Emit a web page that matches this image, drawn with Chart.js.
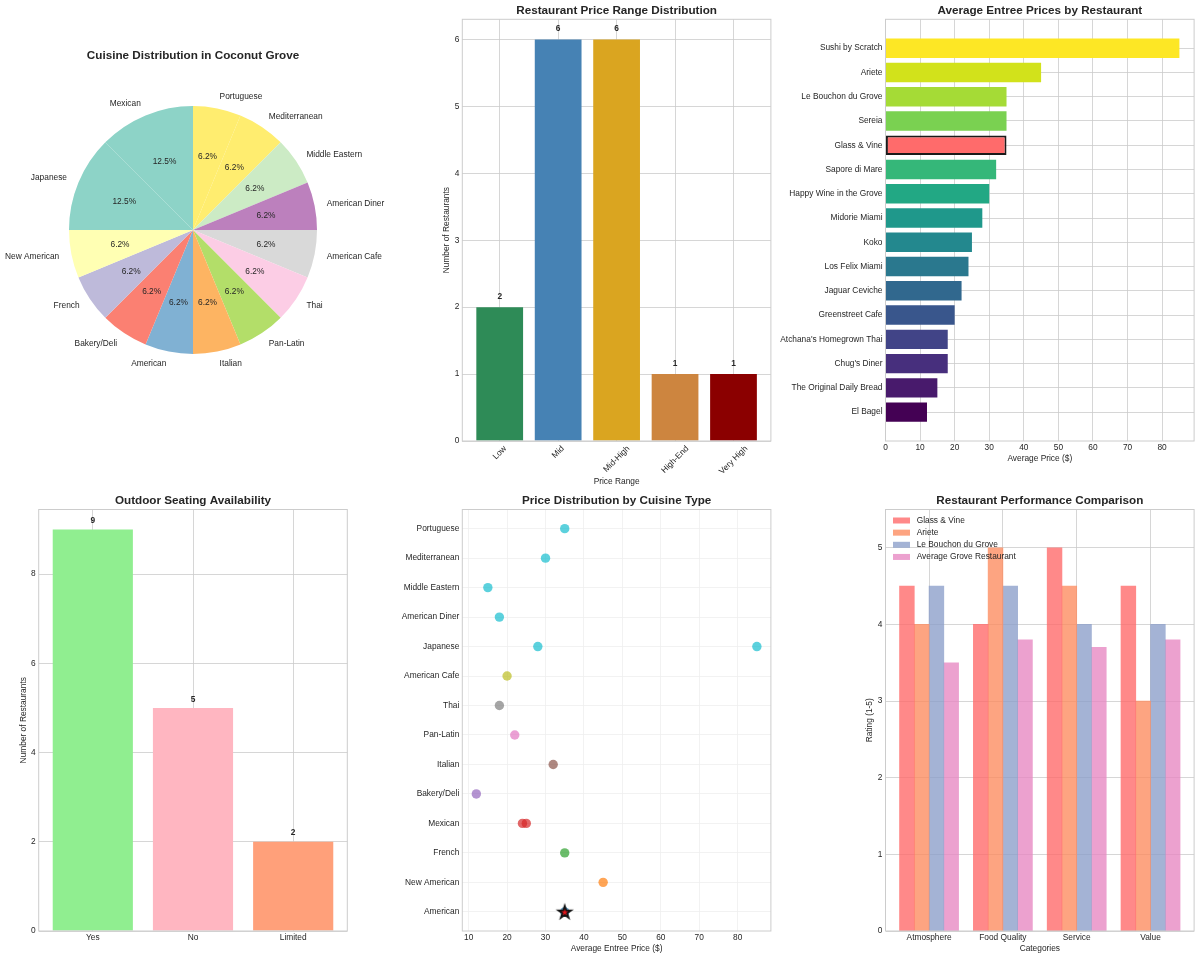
<!DOCTYPE html>
<html>
<head>
<meta charset="utf-8">
<title>Coconut Grove Restaurants</title>
<script src="https://cdn.jsdelivr.net/npm/chart.js@4.4.1/dist/chart.umd.min.js"></script>
<style>
  html, body { margin: 0; padding: 0; background: #fff; }
  #page { position: relative; width: 1200px; height: 960px; overflow: hidden; }
  #page canvas { position: absolute; }
</style>
</head>
<body>
<div id="page">
  <canvas id="cuisineChart"></canvas>
  <canvas id="priceRangeChart"></canvas>
  <canvas id="entreeChart"></canvas>
  <canvas id="seatingChart"></canvas>
  <canvas id="scatterChart"></canvas>
  <canvas id="ratingChart"></canvas>
</div>
<script>
// ---------- data ----------

// Cuisine pie (matplotlib order, counter-clockwise from 12 o'clock)
const cuisines = ['Mexican', 'Japanese', 'New American', 'French', 'Bakery/Deli', 'American', 'Italian',
  'Pan-Latin', 'Thai', 'American Cafe', 'American Diner', 'Middle Eastern', 'Mediterranean', 'Portuguese'];
const cuisineCounts = [2, 2, 1, 1, 1, 1, 1, 1, 1, 1, 1, 1, 1, 1];
const cuisineColors = ['#8dd3c7', '#8dd3c7', '#ffffb3', '#bebada', '#fb8072', '#80b1d3', '#fdb462',
  '#b3de69', '#fccde5', '#d9d9d9', '#bc80bd', '#ccebc5', '#ffed6f', '#ffed6f'];

// Price range bars
const priceRanges = ['Low', 'Mid', 'Mid-High', 'High-End', 'Very High'];
const priceRangeCounts = [2, 6, 6, 1, 1];
const priceRangeColors = ['#2e8b57', '#4682b4', '#daa520', '#cd853f', '#8b0000'];
const countTicks = [0, 1, 2, 3, 4, 5, 6];

// Average entree price per restaurant (top to bottom)
const restaurants = ['Sushi by Scratch', 'Ariete', 'Le Bouchon du Grove', 'Sereia', 'Glass & Vine',
  'Sapore di Mare', 'Happy Wine in the Grove', 'Midorie Miami', 'Koko', 'Los Felix Miami',
  'Jaguar Ceviche', 'Greenstreet Cafe', "Atchana's Homegrown Thai", "Chug's Diner",
  'The Original Daily Bread', 'El Bagel'];
const entreePrices = [85, 45, 35, 35, 35, 32, 30, 28, 25, 24, 22, 20, 18, 18, 15, 12];
const restaurantColors = ['#fde725', '#d2e21b', '#a5db36', '#7ad151', '#54c568', '#35b779', '#22a884',
  '#1f988b', '#23888e', '#2a788e', '#31688e', '#39568c', '#414487', '#472f7d', '#481a6c', '#440154'];
const highlightRestaurant = 'Glass & Vine';
const priceTicks = [0, 10, 20, 30, 40, 50, 60, 70, 80];

// Outdoor seating
const seatingOptions = ['Yes', 'No', 'Limited'];
const seatingCounts = [9, 5, 2];
const seatingColors = ['#90ee90', '#ffb6c1', '#ffa07a'];
const seatingTicks = [0, 2, 4, 6, 8];

// Price by cuisine scatter (bottom to top)
const scatterCuisines = ['American', 'New American', 'French', 'Mexican', 'Bakery/Deli', 'Italian',
  'Pan-Latin', 'Thai', 'American Cafe', 'Japanese', 'American Diner', 'Middle Eastern',
  'Mediterranean', 'Portuguese'];
const cuisinePrices = [[35], [45], [35], [24, 25], [12], [32], [22], [18], [20], [28, 85], [18], [15], [30], [35]];
const cuisinePointColors = ['#1f77b4', '#ff7f0e', '#2ca02c', '#d62728', '#9467bd', '#8c564b', '#e377c2',
  '#7f7f7f', '#bcbd22', '#17becf', '#17becf', '#17becf', '#17becf', '#17becf'];
const highlightCuisine = 'American';
const highlightPrice = 35;
const entreeTicks = [10, 20, 30, 40, 50, 60, 70, 80];

// Performance comparison
const ratingCategories = ['Atmosphere', 'Food Quality', 'Service', 'Value'];
const glassVineRatings = [4.5, 4, 5, 4.5];
const arieteRatings = [4, 5, 4.5, 3];
const bouchonRatings = [4.5, 4.5, 4, 4];
const groveAverageRatings = [3.5, 3.8, 3.7, 3.8];
const ratingSeries = ['Glass & Vine', 'Ariete', 'Le Bouchon du Grove', 'Average Grove Restaurant'];
const ratingColors = ['rgba(255,107,107,0.8)', 'rgba(252,141,98,0.8)', 'rgba(141,160,203,0.8)', 'rgba(231,138,195,0.8)'];
const ratingTicks = [0, 1, 2, 3, 4, 5];
const ratingMax = 5.5;

// ---------- look ----------
const FONT = "'Liberation Sans', Arial, sans-serif";
const TEXT = '#262626';
const GRID = '#cccccc';
const TITLE_SIZE = 11.7;
const TEXT_SIZE = 8.35;

Chart.defaults.font.family = FONT;
Chart.defaults.font.size = TEXT_SIZE;
Chart.defaults.color = TEXT;
Chart.defaults.animation = false;
Chart.defaults.events = [];
Chart.defaults.responsive = false;
Chart.defaults.plugins.legend.display = false;
Chart.defaults.plugins.tooltip.enabled = false;

// canvas boxes and plot areas on the page
const boxes = {
  cuisine:    { x: 0,   y: 0,   w: 400, h: 480, plot: { l: 69,    t: 106,   r: 317,    b: 354 } },
  priceRange: { x: 400, y: 0,   w: 400, h: 495, plot: { l: 462.3, t: 19.3,  r: 770.9,  b: 441 }, yW: 30, xH: 10 },
  entree:     { x: 760, y: 0,   w: 440, h: 480, plot: { l: 885.5, t: 19.3,  r: 1194.1, b: 441 }, yW: 110, xH: 20 },
  seating:    { x: 0,   y: 480, w: 400, h: 480, plot: { l: 38.7,  t: 509.5, r: 347.3,  b: 931 }, yW: 20, xH: 20 },
  scatter:    { x: 380, y: 480, w: 420, h: 480, plot: { l: 462.3, t: 509.5, r: 770.9,  b: 931 }, yW: 78, xH: 20 },
  rating:     { x: 800, y: 480, w: 400, h: 480, plot: { l: 885.5, t: 509.5, r: 1194.1, b: 931 }, yW: 20, xH: 20 }
};

function place(id, box) {
  const c = document.getElementById(id);
  c.width = box.w;
  c.height = box.h;
  c.style.left = box.x + 'px';
  c.style.top = box.y + 'px';
  return c;
}

function paddingFor(box) {
  const p = box.plot, yW = box.yW || 0, xH = box.xH || 0;
  return {
    left: p.l - box.x - yW,
    top: p.t - box.y,
    right: box.x + box.w - p.r,
    bottom: box.y + box.h - p.b - xH
  };
}

// matplotlib style 5% margins
function barLimits(n, width) {
  const lo = -width / 2, hi = n - 1 + width / 2, m = (hi - lo) * 0.05;
  return [lo - m, hi + m];
}
function dataLimits(values) {
  const lo = Math.min(...values), hi = Math.max(...values), m = (hi - lo) * 0.05;
  return [lo - m, hi + m];
}

function linearAxis(min, max, tickValues, size, more) {
  more = more || {};
  return {
    type: 'linear',
    min, max,
    offset: false,
    reverse: !!more.reverse,
    grid: { color: more.gridColor || GRID, lineWidth: 0.8, drawTicks: false, offset: false },
    border: { display: false },
    ticks: {
      display: more.hideLabels ? false : true,
      padding: more.tickPad != null ? more.tickPad : 3,
      autoSkip: false,
      maxRotation: 0,
      minRotation: 0,
      callback: more.labels ? (v) => more.labels[v] : undefined
    },
    afterBuildTicks: (sc) => { sc.ticks = tickValues.map(v => ({ value: v })); },
    afterFit: (sc) => { if (sc.isHorizontal()) sc.height = size; else sc.width = size; }
  };
}

function pctText(v) {
  const scaled = v * 10;
  let r = Math.round(scaled);
  if (Math.abs(scaled - Math.trunc(scaled)) === 0.5 && r % 2 !== 0) r -= 1; // round half to even like python
  return (r / 10).toFixed(1) + '%';
}

// titles, axis titles, frame, value labels, legend
const panelText = {
  id: 'panelText',
  afterDatasetsDraw(chart, args, o) {
    const { ctx } = chart;
    if (o.valueLabels) {
      const meta = chart.getDatasetMeta(0);
      const ys = chart.scales.y;
      ctx.save();
      ctx.font = `bold ${TEXT_SIZE}px ${FONT}`;
      ctx.fillStyle = TEXT;
      ctx.textAlign = 'center';
      ctx.textBaseline = 'bottom';
      meta.data.forEach((bar, i) => {
        const v = chart.data.datasets[0].data[i].y;
        ctx.fillText(String(v), bar.x, ys.getPixelForValue(v + 0.1));
      });
      ctx.restore();
    }
  },
  afterDraw(chart, args, o) {
    const { ctx, chartArea: a } = chart;
    ctx.save();
    ctx.fillStyle = TEXT;
    if (o.frame) {
      ctx.strokeStyle = GRID;
      ctx.lineWidth = 1;
      ctx.strokeRect(a.left, a.top, a.right - a.left, a.bottom - a.top);
    }
    if (o.title) {
      ctx.font = `bold ${TITLE_SIZE}px ${FONT}`;
      ctx.textAlign = 'center';
      ctx.textBaseline = 'middle';
      ctx.fillText(o.title, (a.left + a.right) / 2, o.titleY != null ? o.titleY : a.top - 8.5);
    }
    ctx.font = `${TEXT_SIZE}px ${FONT}`;
    if (o.xTitle) {
      ctx.textAlign = 'center';
      ctx.textBaseline = 'middle';
      ctx.fillText(o.xTitle, (a.left + a.right) / 2, a.bottom + (o.xTitleGap || 18));
    }
    if (o.yTitle) {
      ctx.save();
      ctx.translate(a.left - 15.5, (a.top + a.bottom) / 2);
      ctx.rotate(-Math.PI / 2);
      ctx.textAlign = 'center';
      ctx.textBaseline = 'middle';
      ctx.fillText(o.yTitle, 0, 0);
      ctx.restore();
    }
    if (o.rotatedLabels) {
      const xs = chart.scales.x;
      const s = Math.SQRT1_2;
      o.rotatedLabels.forEach((label, i) => {
        const w = ctx.measureText(label).width;
        const ext = (w + TEXT_SIZE * 1.05) * s;
        ctx.save();
        ctx.translate(xs.getPixelForValue(i), a.bottom + 3.2 + ext / 2);
        ctx.rotate(-Math.PI / 4);
        ctx.textAlign = 'center';
        ctx.textBaseline = 'middle';
        ctx.fillText(label, 0, 0);
        ctx.restore();
      });
    }
    if (o.legend) {
      ctx.textAlign = 'left';
      ctx.textBaseline = 'middle';
      o.legend.forEach((item, i) => {
        const cy = a.top + 11 + i * 12.15;
        ctx.fillStyle = item.color;
        ctx.fillRect(a.left + 7.5, cy - 3, 17, 6);
        ctx.fillStyle = TEXT;
        ctx.fillText(item.text, a.left + 31.2, cy);
      });
    }
    ctx.restore();
  }
};

// pie percentages and outer labels
const pieLabels = {
  id: 'pieLabels',
  afterDatasetsDraw(chart) {
    const { ctx } = chart;
    const meta = chart.getDatasetMeta(0);
    const values = chart.data.datasets[0].data;
    const total = values.reduce((s, v) => s + v, 0);
    ctx.save();
    ctx.font = `${TEXT_SIZE}px ${FONT}`;
    ctx.fillStyle = TEXT;
    ctx.textBaseline = 'middle';
    meta.data.forEach((arc, i) => {
      const { x, y, startAngle, endAngle, outerRadius } =
        arc.getProps(['x', 'y', 'startAngle', 'endAngle', 'outerRadius'], true);
      const mid = (startAngle + endAngle) / 2;
      const c = Math.cos(mid), s = Math.sin(mid);
      ctx.textAlign = 'center';
      ctx.fillText(pctText(values[i] / total * 100), x + c * outerRadius * 0.6, y + s * outerRadius * 0.6);
      ctx.textAlign = c >= 0 ? 'left' : 'right';
      ctx.fillText(chart.data.labels[i], x + c * outerRadius * 1.1, y + s * outerRadius * 1.1);
    });
    ctx.restore();
  }
};

// ---------- 1. cuisine pie ----------
new Chart(place('cuisineChart', boxes.cuisine), {
  type: 'pie',
  data: {
    // chart.js goes clockwise, matplotlib went counter-clockwise
    labels: cuisines.slice().reverse(),
    datasets: [{
      data: cuisineCounts.slice().reverse(),
      backgroundColor: cuisineColors.slice().reverse(),
      borderWidth: 0
    }]
  },
  options: {
    layout: { padding: paddingFor(boxes.cuisine), autoPadding: false },
    plugins: { panelText: { title: 'Cuisine Distribution in Coconut Grove', titleY: 56 } }
  },
  plugins: [pieLabels, panelText]
});

// ---------- 2. price range distribution ----------
const prLim = barLimits(priceRanges.length, 0.8);
new Chart(place('priceRangeChart', boxes.priceRange), {
  type: 'bar',
  data: {
    datasets: [{
      data: priceRangeCounts.map((v, i) => ({ x: i, y: v })),
      backgroundColor: priceRangeColors,
      barPercentage: 0.8,
      categoryPercentage: 1
    }]
  },
  options: {
    layout: { padding: paddingFor(boxes.priceRange), autoPadding: false },
    scales: {
      x: linearAxis(prLim[0], prLim[1], priceRanges.map((_, i) => i), boxes.priceRange.xH, { hideLabels: true }),
      y: linearAxis(0, Math.max(...priceRangeCounts) * 1.05, countTicks, boxes.priceRange.yW)
    },
    plugins: {
      panelText: {
        frame: true, title: 'Restaurant Price Range Distribution',
        xTitle: 'Price Range', xTitleGap: 41, yTitle: 'Number of Restaurants',
        valueLabels: true, rotatedLabels: priceRanges
      }
    }
  },
  plugins: [panelText]
});

// ---------- 3. average entree price by restaurant ----------
const enLim = barLimits(restaurants.length, 0.8);
new Chart(place('entreeChart', boxes.entree), {
  type: 'bar',
  data: {
    datasets: [{
      data: entreePrices.map((v, i) => ({ x: v, y: i })),
      backgroundColor: restaurants.map((r, i) => r === highlightRestaurant ? '#ff6b6b' : restaurantColors[i]),
      borderColor: restaurants.map(r => r === highlightRestaurant ? '#1a1a1a' : 'rgba(0,0,0,0)'),
      borderWidth: restaurants.map(r => r === highlightRestaurant ? 2 : 0),
      borderSkipped: false,
      barPercentage: 0.8,
      categoryPercentage: 1
    }]
  },
  options: {
    indexAxis: 'y',
    layout: { padding: paddingFor(boxes.entree), autoPadding: false },
    scales: {
      x: linearAxis(0, Math.max(...entreePrices) * 1.05, priceTicks, boxes.entree.xH, { tickPad: 1.7 }),
      y: linearAxis(enLim[0], enLim[1], restaurants.map((_, i) => i), boxes.entree.yW,
        { reverse: true, labels: restaurants })
    },
    plugins: {
      panelText: { frame: true, title: 'Average Entree Prices by Restaurant', xTitle: 'Average Price ($)', xTitleGap: 17.5 }
    }
  },
  plugins: [panelText]
});

// ---------- 4. outdoor seating ----------
const seLim = barLimits(seatingOptions.length, 0.8);
new Chart(place('seatingChart', boxes.seating), {
  type: 'bar',
  data: {
    datasets: [{
      data: seatingCounts.map((v, i) => ({ x: i, y: v })),
      backgroundColor: seatingColors,
      barPercentage: 0.8,
      categoryPercentage: 1
    }]
  },
  options: {
    layout: { padding: paddingFor(boxes.seating), autoPadding: false },
    scales: {
      x: linearAxis(seLim[0], seLim[1], seatingOptions.map((_, i) => i), boxes.seating.xH,
        { tickPad: 1.7, labels: seatingOptions }),
      y: linearAxis(0, Math.max(...seatingCounts) * 1.05, seatingTicks, boxes.seating.yW)
    },
    plugins: {
      panelText: { frame: true, title: 'Outdoor Seating Availability', yTitle: 'Number of Restaurants', valueLabels: true }
    }
  },
  plugins: [panelText]
});

// ---------- 5. price by cuisine scatter ----------
const scatterPoints = [];
const scatterColors = [];
cuisinePrices.forEach((prices, ci) => {
  prices.forEach(p => {
    scatterPoints.push({ x: p, y: ci });
    scatterColors.push(Chart.helpers.color(cuisinePointColors[ci]).alpha(0.7).rgbString());
  });
});

function starImage() {
  const c = document.createElement('canvas');
  c.width = 20; c.height = 20;
  const g = c.getContext('2d');
  const R = 6.6, r = R * 0.382;
  g.beginPath();
  for (let k = 0; k < 10; k++) {
    const ang = -Math.PI / 2 + k * Math.PI / 5;
    const rad = k % 2 === 0 ? R : r;
    const px = 10 + Math.cos(ang) * rad, py = 10.6 + Math.sin(ang) * rad;
    if (k === 0) g.moveTo(px, py); else g.lineTo(px, py);
  }
  g.closePath();
  g.fillStyle = '#e8141a';
  g.fill();
  g.lineWidth = 1.8;
  g.strokeStyle = '#111';
  g.lineJoin = 'miter';
  g.stroke();
  return c;
}

const allPrices = cuisinePrices.flat();
const scX = dataLimits(allPrices);
const scY = barLimits(scatterCuisines.length, 0);
new Chart(place('scatterChart', boxes.scatter), {
  type: 'scatter',
  data: {
    datasets: [{
      data: scatterPoints,
      pointBackgroundColor: scatterColors,
      pointBorderWidth: 0,
      pointRadius: 4.7,
      order: 1
    }, {
      data: [{ x: highlightPrice, y: scatterCuisines.indexOf(highlightCuisine) }],
      pointStyle: starImage(),
      pointRadius: 8,
      order: 0
    }]
  },
  options: {
    layout: { padding: paddingFor(boxes.scatter), autoPadding: false },
    scales: {
      x: linearAxis(scX[0], scX[1], entreeTicks, boxes.scatter.xH, { tickPad: 1.7, gridColor: '#efefef' }),
      y: linearAxis(scY[0], scY[1], scatterCuisines.map((_, i) => i), boxes.scatter.yW,
        { labels: scatterCuisines, gridColor: '#efefef' })
    },
    plugins: {
      panelText: { frame: true, title: 'Price Distribution by Cuisine Type', xTitle: 'Average Entree Price ($)' }
    }
  },
  plugins: [panelText]
});

// ---------- 6. performance comparison ----------
const groupWidth = 0.8;
const ratingValues = [glassVineRatings, arieteRatings, bouchonRatings, groveAverageRatings];
const oneBar = groupWidth / ratingValues.length;
const raLim = barLimits(ratingCategories.length, groupWidth);
new Chart(place('ratingChart', boxes.rating), {
  type: 'bar',
  data: {
    datasets: ratingValues.map((vals, k) => ({
      label: ratingSeries[k],
      data: vals.map((v, i) => ({ x: i + (k - (ratingValues.length - 1) / 2) * oneBar, y: v })),
      backgroundColor: ratingColors[k],
      grouped: false,
      barPercentage: 1,
      categoryPercentage: 1
    }))
  },
  options: {
    layout: { padding: paddingFor(boxes.rating), autoPadding: false },
    scales: {
      x: linearAxis(raLim[0], raLim[1], ratingCategories.map((_, i) => i), boxes.rating.xH,
        { tickPad: 1.7, labels: ratingCategories }),
      y: linearAxis(0, ratingMax, ratingTicks, boxes.rating.yW)
    },
    plugins: {
      panelText: {
        frame: true, title: 'Restaurant Performance Comparison', xTitle: 'Categories', yTitle: 'Rating (1-5)',
        legend: ratingSeries.map((t, k) => ({ text: t, color: ratingColors[k] }))
      }
    }
  },
  plugins: [panelText]
});
</script>
</body>
</html>
